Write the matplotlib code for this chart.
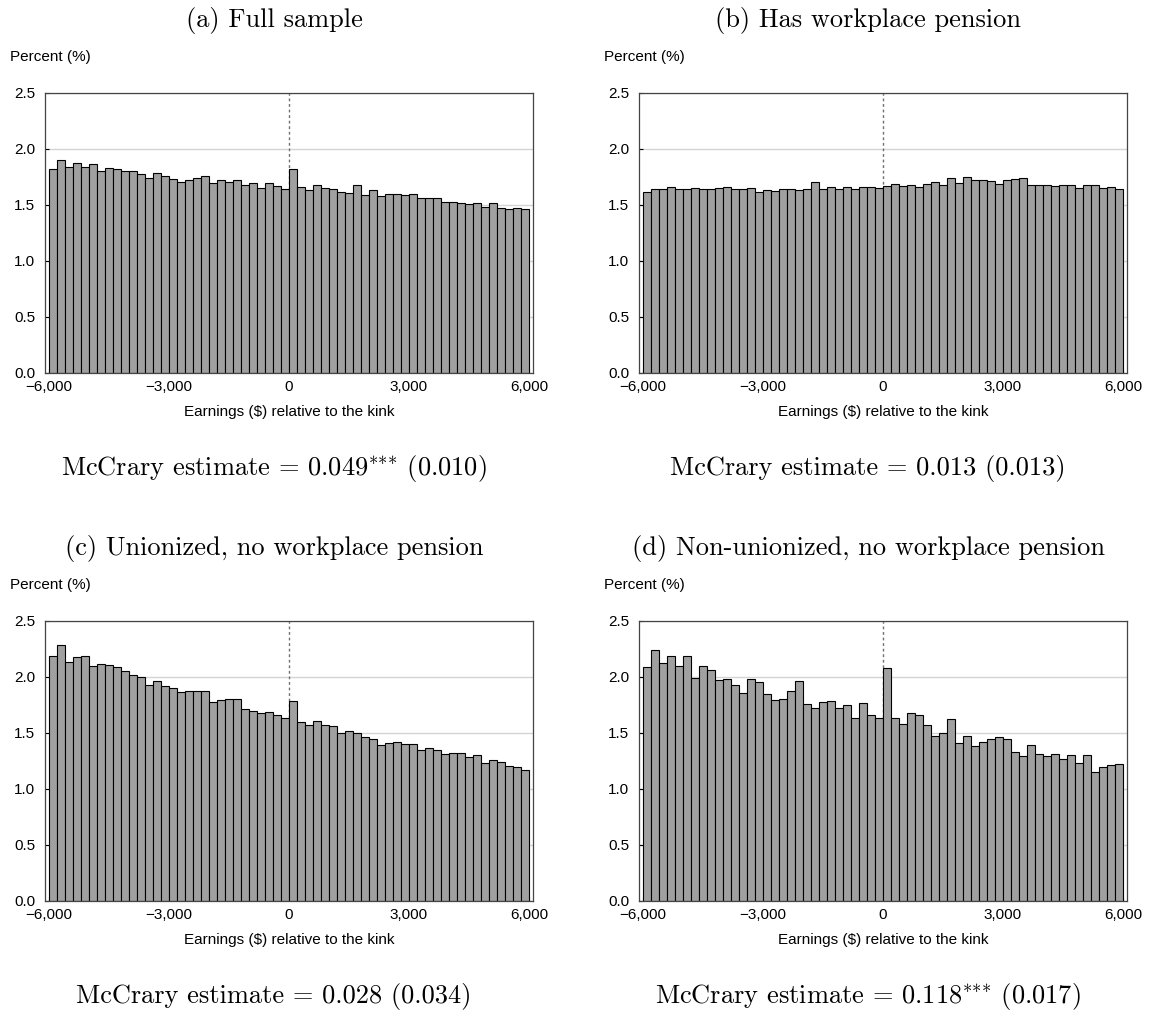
import numpy as np
import matplotlib.pyplot as plt
from matplotlib.ticker import FuncFormatter

plt.rcParams['mathtext.fontset'] = 'cm'

# left edges of the $200 bins
bins = np.arange(-6000, 6000, 200)

full = [1.822, 1.900, 1.843, 1.879, 1.837, 1.867, 1.804, 1.834, 1.819, 1.801,
        1.804, 1.775, 1.739, 1.789, 1.757, 1.730, 1.703, 1.721, 1.742, 1.763,
        1.694, 1.721, 1.703, 1.721, 1.676, 1.694, 1.649, 1.694, 1.667, 1.646,
        1.819, 1.664, 1.634, 1.676, 1.655, 1.640, 1.613, 1.605, 1.682, 1.587,
        1.631, 1.581, 1.596, 1.602, 1.593, 1.602, 1.566, 1.560, 1.560, 1.527,
        1.527, 1.521, 1.512, 1.521, 1.479, 1.521, 1.470, 1.464, 1.476, 1.467]

pension = [1.616, 1.646, 1.640, 1.661, 1.643, 1.646, 1.652, 1.640, 1.643, 1.655,
           1.664, 1.646, 1.640, 1.649, 1.616, 1.631, 1.625, 1.646, 1.646, 1.631,
           1.640, 1.706, 1.640, 1.664, 1.640, 1.661, 1.646, 1.658, 1.664, 1.649,
           1.673, 1.685, 1.667, 1.682, 1.658, 1.691, 1.703, 1.676, 1.739, 1.700,
           1.748, 1.721, 1.721, 1.712, 1.691, 1.721, 1.730, 1.739, 1.682, 1.679,
           1.682, 1.667, 1.679, 1.676, 1.649, 1.682, 1.676, 1.652, 1.658, 1.643]

union = [2.187, 2.285, 2.136, 2.175, 2.190, 2.100, 2.115, 2.109, 2.085, 2.055,
         2.020, 1.996, 1.933, 1.966, 1.918, 1.903, 1.862, 1.876, 1.876, 1.873,
         1.778, 1.793, 1.805, 1.805, 1.718, 1.692, 1.680, 1.689, 1.665, 1.632,
         1.787, 1.602, 1.572, 1.608, 1.575, 1.563, 1.501, 1.518, 1.501, 1.468,
         1.450, 1.396, 1.411, 1.420, 1.402, 1.402, 1.351, 1.366, 1.348, 1.316,
         1.322, 1.322, 1.289, 1.304, 1.232, 1.259, 1.244, 1.205, 1.193, 1.172]

nonunion = [2.091, 2.243, 2.124, 2.184, 2.094, 2.190, 1.987, 2.100, 2.061, 1.969,
            1.984, 1.933, 1.859, 1.984, 1.957, 1.844, 1.793, 1.805, 1.873, 1.966,
            1.760, 1.724, 1.778, 1.790, 1.724, 1.748, 1.635, 1.766, 1.665, 1.635,
            2.079, 1.635, 1.581, 1.680, 1.662, 1.572, 1.474, 1.501, 1.626, 1.414,
            1.471, 1.384, 1.420, 1.450, 1.462, 1.450, 1.328, 1.295, 1.393, 1.313,
            1.298, 1.310, 1.265, 1.307, 1.232, 1.307, 1.155, 1.196, 1.214, 1.223]

titles = ["(a) Full sample", "(b) Has workplace pension",
          "(c) Unionized, no workplace pension", "(d) Non-unionized, no workplace pension"]
notes = [r"McCrary estimate = 0.049$^{{*}{*}{*}}$ (0.010)",
         "McCrary estimate = 0.013 (0.013)",
         "McCrary estimate = 0.028 (0.034)",
         r"McCrary estimate = 0.118$^{{*}{*}{*}}$ (0.017)"]
series = [full, pension, union, nonunion]

W, H = 1150, 1019
fig = plt.figure(figsize=(W / 100, H / 100), dpi=100)

# pixel boxes: left, top of the axes
lefts = [45, 639, 45, 639]
tops = [93, 93, 621, 621]
aw, ah = 488, 280

def xfmt(v, pos):
    s = f"{abs(int(v)):,}"
    return ("\u2212" + s) if v < 0 else s

sans = "Liberation Sans"
for i in range(4):
    l, t = lefts[i], tops[i]
    ax = fig.add_axes([l / W, 1 - (t + ah) / H, aw / W, ah / H])
    ax.set_axisbelow(True)
    ax.yaxis.grid(True, color="#d4d4d4", linewidth=1)
    ax.axvline(0, color="#707070", linestyle=(0, (2, 2)), linewidth=1, zorder=1)
    ax.bar(bins, series[i], width=200, align="edge", color="#a0a0a0",
           edgecolor="black", linewidth=0.8, zorder=2)
    ax.set_xlim(-6100, 6100)
    ax.set_ylim(0, 2.5)
    ax.set_xticks([-6000, -3000, 0, 3000, 6000])
    ax.set_yticks([0, 0.5, 1.0, 1.5, 2.0, 2.5])
    ax.xaxis.set_major_formatter(FuncFormatter(xfmt))
    ax.yaxis.set_major_formatter(FuncFormatter(lambda v, p: f"{v:.1f}"))
    ax.tick_params(direction="in", length=3, labelsize=11)
    ax.tick_params(axis="x", pad=5)
    ax.tick_params(axis="y", pad=7)
    for lab in ax.get_xticklabels() + ax.get_yticklabels():
        lab.set_fontfamily(sans)
    for sp in ax.spines.values():
        sp.set_color("#444444")
        sp.set_linewidth(0.9)
    ax.set_xlabel("Earnings ($) relative to the kink", fontsize=11,
                  fontfamily=sans, labelpad=8)

    cx = (l + aw / 2 - 15) / W
    fig.text(cx, 1 - (t - 73) / H, titles[i], ha="center", va="center",
             fontsize=19, fontfamily="cmr10")
    fig.text(10 / W + (l - 45) / W, 1 - (t - 36) / H, "Percent (%)",
             ha="left", va="center", fontsize=11, fontfamily=sans)
    fig.text(cx, 1 - (t + 375) / H, notes[i], ha="center", va="center",
             fontsize=19, fontfamily="cmr10")

fig.savefig("out.png", dpi=100)
